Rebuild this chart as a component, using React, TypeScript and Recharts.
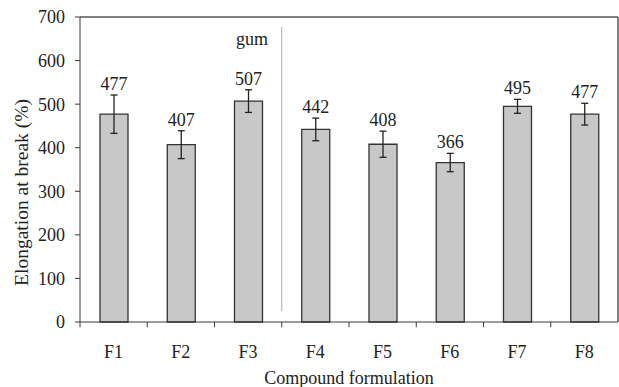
import React from 'react';
import { BarChart, Bar, XAxis, YAxis, ErrorBar, LabelList, ReferenceLine, ReferenceDot, Label } from 'recharts';

const categories = ['F1', 'F2', 'F3', 'F4', 'F5', 'F6', 'F7', 'F8'];
const values = [477, 407, 507, 442, 408, 366, 495, 477];
const errors = [44, 32, 26, 26, 30, 21, 16, 25];
const yTicks = [0, 100, 200, 300, 400, 500, 600, 700];
const dividerAfter = 'F3';
const dividerLabel = 'gum';

const data = categories.map((c, i) => ({ name: c, value: values[i], err: errors[i] }));

const FONT = '"Liberation Serif", "Times New Roman", serif';
const FS = 18;
const AXIS = '#3a3a3a';

const ValueLabel = (props: any) => {
  const { x, y, width, height, value, index } = props;
  const k = height / value;
  const top = y - errors[index] * k;
  return (
    <text x={x + width / 2} y={top - 5} textAnchor="middle" fontFamily={FONT} fontSize={FS} fill="#222">
      {value}
    </text>
  );
};

export default function App() {
  return (
    <div style={{ position: 'absolute', left: 0, top: 0, background: '#fff' }}>
      <BarChart
        width={619}
        height={387}
        data={data}
        margin={{ top: 17, right: 1, left: 0, bottom: 0 }}
        barCategoryGap={0}
      >
        <XAxis
          dataKey="name"
          height={65}
          tickLine={false}
          stroke={AXIS}
          tick={{ fontFamily: FONT, fontSize: FS, fill: '#222' }}
          tickMargin={17}
        >
          <Label
            value="Compound formulation"
            position="insideBottom"
            offset={3}
            style={{ fontFamily: FONT, fontSize: FS, fill: '#222' }}
          />
        </XAxis>
        <YAxis
          width={80}
          domain={[0, 700]}
          ticks={yTicks}
          stroke={AXIS}
          tickSize={5}
          tickMargin={10}
          tick={{ fontFamily: FONT, fontSize: FS, fill: '#222' }}
          label={{
            content: (p: any) => {
              const vb = p.viewBox;
              const cx = vb.x + 21;
              const cy = vb.y + vb.height / 2 + 23;
              return (
                <text
                  x={cx}
                  y={cy}
                  transform={`rotate(-90, ${cx}, ${cy})`}
                  textAnchor="middle"
                  dominantBaseline="central"
                  fontFamily={FONT}
                  fontSize={19.5}
                  fill="#222"
                >
                  Elongation at break (%)
                </text>
              );
            },
          }}
        />
        <ReferenceLine y={700} stroke="#555" strokeWidth={1.5} />
        <ReferenceLine x="F8" position="end" stroke="#555" strokeWidth={1.5} />
        {categories.map((c) => (
          <ReferenceLine
            key={'t' + c}
            segment={[{ x: c, y: 0 }, { x: c, y: -12 }]}
            position="start"
            ifOverflow="visible"
            stroke={AXIS}
          />
        ))}
        <ReferenceLine
          segment={[{ x: dividerAfter, y: 25 }, { x: dividerAfter, y: 677 }]}
          position="end"
          stroke="#aaa"
          strokeWidth={1}
        />
        <ReferenceDot
          x={dividerAfter}
          y={650}
          r={0}
          fill="none"
          stroke="none"
          label={{
            content: (p: any) => (
              <text
                x={p.viewBox.x + 4}
                y={p.viewBox.y}
                textAnchor="middle"
                dominantBaseline="central"
                fontFamily={FONT}
                fontSize={FS}
                fill="#222"
              >
                {dividerLabel}
              </text>
            ),
          }}
        />
        <Bar dataKey="value" fill="#c8c8c8" stroke="#333" strokeWidth={1.3} barSize={28} isAnimationActive={false}>
          <ErrorBar dataKey="err" width={3.5} stroke="#222" strokeWidth={1.3} />
          <LabelList dataKey="value" content={ValueLabel} />
        </Bar>
      </BarChart>
    </div>
  );
}
